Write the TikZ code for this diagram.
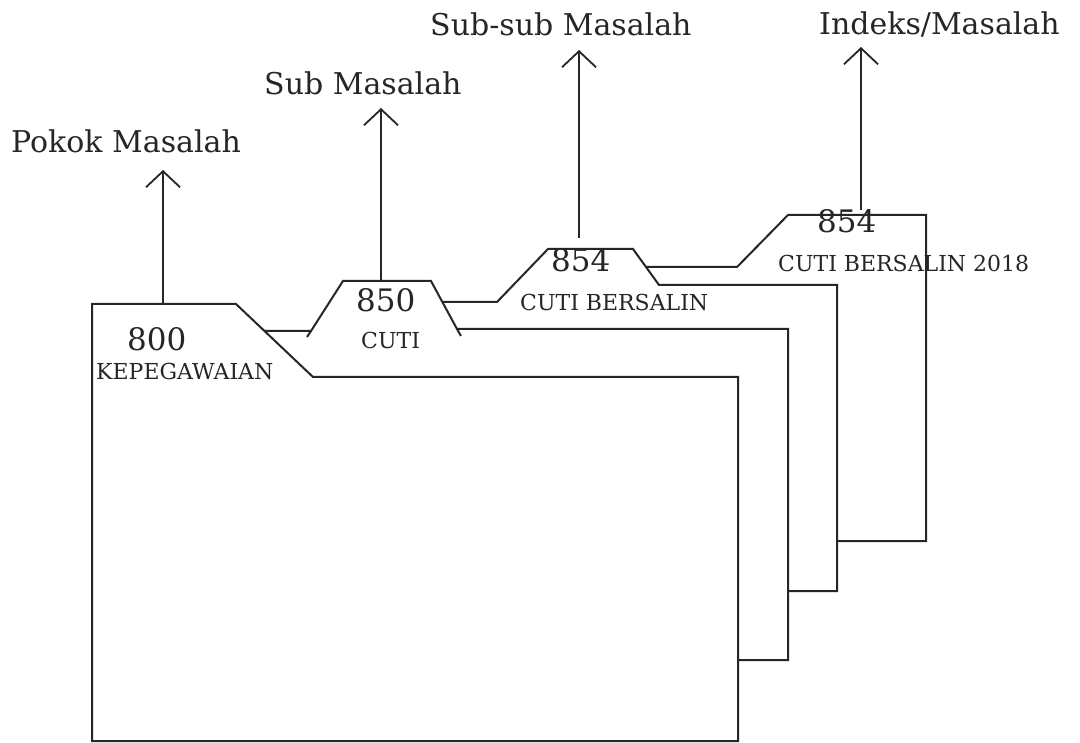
\documentclass[tikz,border=0pt]{standalone}
\usepackage{fontspec}
\setmainfont{DejaVu Serif}
\usetikzlibrary{arrows.meta}
\begin{document}
\begin{tikzpicture}[x=1pt,y=-1pt,
  folder/.style={draw=black!85,fill=white,line width=2pt,line join=miter},
  stub/.style={draw=black!85,line width=2pt},
  up/.style={draw=black!85,line width=1.8pt,-{Straight Barb[length=16pt,width=34pt,line width=1.8pt]}},
  head/.style={font=\fontsize{30}{32}\selectfont,anchor=base west,inner sep=0pt,text=black!85},
  code/.style={font=\fontsize{31}{33}\selectfont,anchor=base west,inner sep=0pt,text=black!85},
  lab/.style={font=\fontsize{22}{24}\selectfont,anchor=base west,inner sep=0pt,text=black!85}]
\useasboundingbox[fill=white] (0,0) rectangle (1080,743);

% folders, back to front
\draw[folder] (600,267) -- (737,267) -- (788,215) -- (926,215) -- (926,541) -- (600,541) -- cycle;
\draw[folder] (420,302) -- (497,302) -- (548,249) -- (633,249) -- (659,285) -- (837,285) -- (837,591) -- (420,591) -- cycle;
\draw[folder] (200,331) -- (311,331) -- (343,281) -- (431,281) -- (457,329) -- (788,329) -- (788,660) -- (200,660) -- cycle;
\draw[stub] (311,331) -- (307,337);
\draw[stub] (457,329) -- (461,336);
\draw[folder] (92,304) -- (236,304) -- (313,377) -- (738,377) -- (738,741) -- (92,741) -- cycle;

% tab anchors and arrow tips
\coordinate (t1) at (163,304);
\coordinate (a1) at (163,170);
\coordinate (t2) at (381,281);
\coordinate (a2) at (381,108);
\coordinate (t3) at (579,238);
\coordinate (a3) at (579,50);
\coordinate (t4) at (861,210);
\coordinate (a4) at (861,47);

\draw[up] (t1) -- (a1);
\draw[up] (t2) -- (a2);
\draw[up] (t3) -- (a3);
\draw[up] (t4) -- (a4);

% headings
\node[head] (h1) at (11,153) {Pokok Masalah};
\node[head] (h2) at (264,95) {Sub Masalah};
\node[head] (h3) at (430,36) {Sub-sub Masalah};
\node[head] (h4) at (819,35) {Indeks/Masalah};

% tab labels
\node[code] (c1) at (127,351) {800};
\node[lab] (l1) at (96,380) {KEPEGAWAIAN};
\node[code] (c2) at (356,312) {850};
\node[lab] (l2) at (361,349) {CUTI};
\node[code] (c3) at (551,272) {854};
\node[lab] (l3) at (520,311) {CUTI BERSALIN};
\node[code] (c4) at (817,233) {854};
\node[lab] (l4) at (778,272) {CUTI BERSALIN 2018};
\end{tikzpicture}
\end{document}
